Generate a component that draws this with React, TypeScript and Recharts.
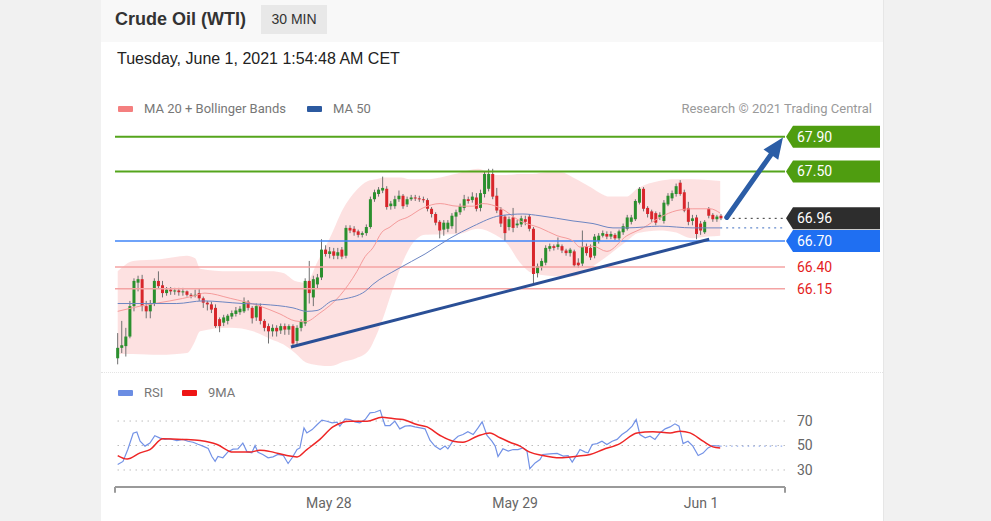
import React from "react";
import {
  ComposedChart,
  LineChart,
  Line,
  Area,
  Bar,
  XAxis,
  YAxis,
  ReferenceLine,
  ReferenceDot,
} from "recharts";

// 30 min candles: [open, high, low, close]
const candles: [number, number, number, number][] = [
  [65.35, 65.64, 65.28, 65.47], [65.47, 65.78, 65.41, 65.5], [65.49, 65.7, 65.37, 65.6], [65.6, 66.01, 65.58, 65.95],
  [65.95, 66.27, 65.89, 66.24], [66.22, 66.3, 66.12, 66.26], [66.26, 66.31, 65.89, 65.95], [65.95, 66.01, 65.81, 65.89],
  [65.89, 66.02, 65.81, 65.98], [65.98, 66.27, 65.95, 66.24], [66.24, 66.35, 66.15, 66.18], [66.19, 66.24, 66.05, 66.1],
  [66.1, 66.17, 66.07, 66.14], [66.14, 66.17, 66.08, 66.12], [66.12, 66.16, 66.08, 66.13], [66.13, 66.16, 66.07, 66.11],
  [66.11, 66.16, 66.07, 66.12], [66.12, 66.13, 66.06, 66.08], [66.08, 66.1, 66.04, 66.07], [66.07, 66.14, 66.05, 66.08],
  [66.1, 66.15, 66.01, 66.04], [66.04, 66.06, 65.93, 65.99], [65.99, 66.01, 65.9, 65.97], [65.97, 66.0, 65.87, 65.91],
  [65.93, 65.97, 65.7, 65.72], [65.8, 65.82, 65.65, 65.72], [65.76, 65.85, 65.72, 65.82], [65.78, 65.86, 65.74, 65.84],
  [65.83, 65.9, 65.8, 65.87], [65.86, 65.94, 65.83, 65.9], [65.88, 65.95, 65.85, 65.92], [65.89, 66.05, 65.87, 66.0],
  [66.0, 66.02, 65.9, 65.93], [65.93, 65.95, 65.75, 65.81], [65.82, 65.98, 65.78, 65.95], [65.95, 65.98, 65.74, 65.78],
  [65.78, 65.8, 65.66, 65.7], [65.72, 65.75, 65.52, 65.66], [65.66, 65.74, 65.6, 65.7], [65.7, 65.73, 65.6, 65.66],
  [65.67, 65.75, 65.63, 65.72], [65.72, 65.75, 65.62, 65.68], [65.68, 65.74, 65.62, 65.72], [65.72, 65.74, 65.48, 65.52],
  [65.55, 65.73, 65.5, 65.7], [65.7, 65.8, 65.66, 65.77], [65.75, 66.27, 65.72, 66.24], [66.24, 66.47, 65.98, 66.1],
  [66.05, 66.3, 65.95, 66.26], [66.2, 66.32, 66.15, 66.28], [66.28, 66.72, 66.25, 66.6], [66.6, 66.65, 66.52, 66.55],
  [66.55, 66.63, 66.5, 66.58], [66.58, 66.62, 66.49, 66.53], [66.53, 66.62, 66.49, 66.57], [66.6, 66.63, 66.49, 66.52],
  [66.53, 66.88, 66.5, 66.85], [66.85, 66.88, 66.79, 66.82], [66.84, 66.87, 66.76, 66.8], [66.81, 66.83, 66.74, 66.77],
  [66.77, 66.81, 66.74, 66.79], [66.79, 66.89, 66.76, 66.86], [66.86, 67.21, 66.84, 67.18], [67.18, 67.29, 67.15, 67.26],
  [67.24, 67.32, 67.21, 67.29], [67.28, 67.44, 67.25, 67.31], [67.3, 67.33, 67.06, 67.09], [67.1, 67.16, 67.06, 67.13],
  [67.1, 67.22, 67.07, 67.18], [67.18, 67.28, 67.15, 67.22], [67.22, 67.24, 67.07, 67.1], [67.12, 67.21, 67.09, 67.18],
  [67.18, 67.23, 67.16, 67.2], [67.2, 67.23, 67.16, 67.19], [67.19, 67.22, 67.15, 67.18], [67.18, 67.21, 67.14, 67.17],
  [67.17, 67.19, 67.04, 67.07], [67.07, 67.09, 66.97, 67.01], [67.01, 67.03, 66.88, 66.91], [66.92, 66.94, 66.73, 66.82],
  [66.83, 66.94, 66.76, 66.91], [66.84, 66.94, 66.8, 66.91], [66.87, 67.02, 66.84, 66.99], [66.98, 67.06, 66.79, 67.03],
  [67.03, 67.13, 67.0, 67.1], [67.08, 67.23, 67.05, 67.18], [67.18, 67.21, 67.13, 67.16], [67.17, 67.26, 67.14, 67.21],
  [67.2, 67.25, 67.04, 67.07], [67.08, 67.29, 67.04, 67.25], [67.24, 67.5, 67.2, 67.47], [67.3, 67.53, 67.27, 67.47],
  [67.47, 67.53, 67.18, 67.21], [67.22, 67.31, 67.02, 67.05], [67.06, 67.09, 66.86, 66.9], [66.98, 67.0, 66.7, 66.79],
  [66.86, 66.98, 66.82, 66.95], [66.97, 67.08, 66.8, 66.85], [66.88, 66.94, 66.85, 66.9], [66.89, 66.99, 66.86, 66.96],
  [66.95, 66.99, 66.88, 66.92], [66.98, 67.01, 66.81, 66.84], [66.84, 66.86, 66.2, 66.32], [66.33, 66.44, 66.28, 66.41],
  [66.4, 66.5, 66.36, 66.47], [66.45, 66.65, 66.42, 66.62], [66.61, 66.67, 66.58, 66.64], [66.64, 66.66, 66.59, 66.62],
  [66.63, 66.74, 66.6, 66.66], [66.64, 66.66, 66.56, 66.59], [66.59, 66.61, 66.53, 66.56], [66.56, 66.62, 66.52, 66.6],
  [66.58, 66.6, 66.4, 66.42], [66.45, 66.5, 66.39, 66.42], [66.44, 66.82, 66.41, 66.63], [66.64, 66.67, 66.53, 66.56],
  [66.62, 66.66, 66.48, 66.51], [66.53, 66.78, 66.5, 66.75], [66.7, 66.79, 66.67, 66.76], [66.76, 66.82, 66.74, 66.79],
  [66.78, 66.81, 66.72, 66.75], [66.75, 66.81, 66.72, 66.78], [66.77, 66.79, 66.71, 66.73], [66.73, 66.83, 66.71, 66.81],
  [66.8, 66.9, 66.77, 66.87], [66.84, 67.0, 66.82, 66.97], [66.92, 67.0, 66.89, 66.97], [66.95, 67.18, 66.93, 67.16],
  [67.14, 67.32, 67.12, 67.3], [67.3, 67.32, 67.04, 67.07], [67.08, 67.1, 66.97, 67.01], [67.04, 67.06, 66.92, 66.95],
  [67.02, 67.04, 66.88, 66.91], [66.97, 67.03, 66.94, 67.0], [66.93, 67.17, 66.9, 67.14], [67.12, 67.25, 67.1, 67.22],
  [67.19, 67.28, 67.16, 67.25], [67.24, 67.36, 67.21, 67.33], [67.37, 67.4, 67.22, 67.24], [67.26, 67.29, 67.03, 67.05],
  [67.08, 67.15, 66.88, 66.92], [66.93, 67.0, 66.88, 66.96], [66.97, 67.0, 66.72, 66.78], [66.9, 66.93, 66.77, 66.82],
  [66.8, 66.94, 66.78, 66.92], [67.07, 67.09, 66.96, 66.99], [67.0, 67.02, 66.92, 66.95], [66.95, 67.0, 66.92, 66.98],
  [66.99, 67.01, 66.94, 66.96],
];

// [candle index, lower band, upper band]
const bollinger: [number, number, number][] = [
  [0, 65.4, 66.35], [3.8, 65.4, 66.47], [10.4, 65.39, 66.49], [17, 65.41, 66.53], [19, 65.55, 66.5],
  [20.2, 65.66, 66.38], [27.6, 65.7, 66.35], [33.2, 65.66, 66.35], [37.6, 65.57, 66.35], [40.6, 65.51, 66.33],
  [43.5, 65.41, 66.24], [46.2, 65.3, 66.22], [49.1, 65.27, 66.47], [52.3, 65.26, 66.76], [55.3, 65.31, 67.07],
  [58.5, 65.35, 67.28], [61.4, 65.43, 67.39], [63.4, 65.61, 67.41], [65.3, 65.84, 67.43], [67.3, 66.12, 67.43],
  [69.5, 66.41, 67.43], [71.5, 66.61, 67.41], [75.4, 66.77, 67.41], [83.5, 66.78, 67.48], [88.4, 66.84, 67.53],
  [92.6, 66.77, 67.46], [95.5, 66.67, 67.46], [98.7, 66.45, 67.47], [101.7, 66.33, 67.47], [105.6, 66.3, 67.49],
  [108.8, 66.29, 67.49], [111.7, 66.29, 67.43], [115.6, 66.38, 67.33], [120.8, 66.55, 67.21], [124.7, 66.69, 67.21],
  [127.7, 66.79, 67.31], [132.8, 66.82, 67.39], [136.7, 66.8, 67.41], [140.9, 66.73, 67.41], [144.8, 66.75, 67.4],
  [147.8, 66.76, 67.39],
];

const ma20: [number, number][] = [
  [0, 65.89], [5.5, 65.95], [12.8, 66.01], [19, 66.07], [21.4, 66.1], [27.6, 66.04], [34.9, 65.95], [39.8, 65.86],
  [43.5, 65.78], [46, 65.77], [49.6, 65.87], [54.5, 66.07], [58.7, 66.35], [60.7, 66.52], [62.6, 66.62], [64.8, 66.8],
  [66.8, 66.86], [68.8, 66.93], [71, 66.97], [74.9, 67.08], [79.1, 67.13], [83.3, 67.1], [87.2, 67.1], [89.6, 67.13],
  [93.8, 67.08], [98.7, 66.93], [103.6, 66.85], [107.8, 66.76], [111.7, 66.7], [113.4, 66.63], [116.6, 66.64],
  [120, 66.58], [124.9, 66.76], [128.9, 66.85], [133, 66.97], [137.2, 67.05], [141.1, 67.07], [145.3, 67.07],
  [147.8, 67.02],
];

const ma50: [number, number][] = [
  [0, 65.98], [14.5, 65.98], [20.9, 66.01], [30.7, 65.98], [35.6, 65.97], [43, 65.93], [46.4, 65.89], [48.9, 65.9],
  [52.6, 66.01], [55.3, 66.03], [60.7, 66.12], [62.6, 66.2], [68.8, 66.38], [75.4, 66.55], [81.5, 66.73],
  [87.2, 66.87], [93.8, 66.99], [99.4, 67.01], [103.6, 66.99], [111.7, 66.93], [116.6, 66.9], [121.5, 66.85],
  [124.9, 66.85], [133, 66.87], [141.1, 66.85], [147.8, 66.85],
];

const rsi: [number, number][] = [
  [0, 34.5], [1.3, 37], [2.5, 47], [3.8, 60], [4.7, 61], [5.5, 53.5], [6.7, 49.5], [7.9, 52], [9.1, 58], [10.4, 56],
  [11.6, 55], [12.8, 55.5], [14.5, 54], [16, 55], [17.2, 53.5], [18.5, 52.7], [19.7, 51], [20.9, 49.5], [22.2, 47.5],
  [23.1, 41], [23.9, 37], [24.6, 41], [25.8, 40], [27.1, 45], [28.3, 47], [29.5, 47.3], [30.7, 52], [31.7, 45],
  [32.9, 44], [33.7, 50], [34.4, 44.5], [35.6, 42.7], [36.9, 40], [38.1, 40.7], [39.3, 42.7], [40.6, 42], [41.8, 35.3],
  [42.8, 40], [44, 46.7], [44.7, 48], [45.7, 64.4], [46.4, 60.3], [47.7, 63], [48.9, 67], [50.1, 70.7], [51.3, 69.8],
  [52.6, 68.5], [53.8, 69], [54.5, 65.8], [55.8, 71.8], [57, 71.2], [58.2, 69.3], [59.4, 68.5], [60.7, 71.2],
  [61.9, 76.7], [63.1, 77.2], [64.4, 78.8], [65.1, 71.2], [65.6, 66.3], [66.8, 66.3], [68, 69.9], [69.2, 63.6],
  [70.5, 65.8], [71.7, 66.3], [72.9, 65.2], [74.2, 64.4], [75.4, 63.6], [76.6, 54.4], [77.8, 49.5], [79.1, 46.7],
  [80.3, 49.5], [81, 47.3], [82.3, 54], [83.5, 57.6], [84.7, 59], [85.9, 61.2], [87.2, 59], [88.4, 64.4], [89.4, 69.3],
  [90.6, 58.2], [91.8, 53.5], [92.6, 49.5], [93.3, 41], [94.5, 47.3], [95.8, 45.4], [97, 46.7], [98.2, 46.7],
  [99.4, 48], [100.4, 45.4], [101.1, 31], [102.4, 35.8], [103.6, 38.6], [104.3, 42.7], [106, 43.2], [107.8, 43.5],
  [109.3, 41.3], [110.5, 41.8], [111.5, 36.4], [112.7, 42.7], [113.4, 46.7], [114.7, 44.6], [115.4, 44], [116.4, 50.8],
  [117.6, 51.6], [118.8, 53.5], [120, 50.8], [121.3, 53.5], [122.5, 55], [123.7, 59], [124.9, 61.7], [126.2, 65.8],
  [127.2, 71.2], [128.1, 59], [129.4, 56.3], [130.6, 57.6], [131.8, 55], [133, 60.3], [134.3, 63.6], [135.5, 65.2],
  [136.7, 67.7], [137.7, 65.8], [138.7, 51.6], [139.9, 53.5], [141.1, 49.5], [142.4, 41.8], [143.6, 43.8], [144.8, 48],
  [146, 50], [147.8, 49.5],
];

const rsiMa9: [number, number][] = [
  [0, 41.8], [2.3, 39], [5.5, 44], [7.9, 46.7], [11.1, 55.5], [16, 55], [20.2, 54], [24.4, 50.8], [28.3, 44.6],
  [32.5, 44.6], [34.9, 46.2], [38.1, 44.6], [41.5, 41.8], [44, 40.7], [46.4, 46.7], [49.6, 55], [52.8, 65.2], [57, 69.9],
  [61.2, 69.9], [64.8, 73.1], [67.5, 72], [70, 71.2], [73.4, 67.1], [75.9, 65.2], [79.1, 58.2], [82.3, 53.5],
  [84.7, 52.7], [88.2, 57.6], [91.3, 60.3], [93.8, 56.3], [96.2, 52.7], [98.7, 49.5], [101.1, 44.6], [104.3, 41.8],
  [108.5, 39.9], [112.7, 41.3], [115.9, 42.7], [119.1, 46.7], [123.2, 51.6], [127.4, 60.3], [131.3, 61.2],
  [135.5, 60.3], [138, 61.7], [140.4, 60.3], [143.6, 53.5], [146, 48.9], [147.8, 48],
];

const resistances = [67.9, 67.5];
const pivot = 66.7;
const supports = [66.4, 66.15];
const lastPrice = 66.96;
const lastMa50 = 66.85;
const lastRsi = 49.5;
const trendline = [
  { x: 42.5, y: 65.48 },
  { x: 145.1, y: 66.72 },
];
const arrow = [
  { x: 149.4, y: 66.97 },
  { x: 163.2, y: 67.89 },
];
const dateTicks = [51.8, 97.5, 143.1];
const dateLabels = ["May 28", "May 29", "Jun 1"];
const rsiTicks = [30, 50, 70];

const X_DOMAIN: [number, number] = [-0.66, 163.7];
const FONT = "Roboto, 'Liberation Sans', Arial, sans-serif";
const GREEN = "#4f9d10";
const BLUE = "#1f6ff2";

const candleRows = candles.map(([o, h, l, c], i) => ({ i, o, h, l, c }));
const bandRows = bollinger.map(([i, lo, up]) => ({ i, band: [lo, up] }));
const ma20Rows = ma20.map(([i, v]) => ({ i, v }));
const ma50Rows = ma50.map(([i, v]) => ({ i, v }));
const rsiRows = rsi.map(([i, v]) => ({ i, v }));
const rsiMaRows = rsiMa9.map(([i, v]) => ({ i, v }));

function Candle(props: any) {
  const { x, y, width, height, payload } = props;
  if (x == null || y == null) return null;
  const top = Math.min(y, y + height);
  const span = Math.abs(height);
  const range = payload.h - payload.l || 1;
  const toY = (v: number) => top + ((payload.h - v) / range) * span;
  const up = payload.c >= payload.o;
  const cx = x + width / 2;
  const bTop = toY(Math.max(payload.o, payload.c));
  const bBot = toY(Math.min(payload.o, payload.c));
  return (
    <g>
      <line x1={cx} x2={cx} y1={top} y2={top + span} stroke="#707070" strokeWidth={1} />
      <rect
        x={cx - 1.5}
        y={bTop}
        width={3}
        height={Math.max(1, bBot - bTop)}
        fill={up ? "#2b8f2e" : "#d8262b"}
      />
    </g>
  );
}

function tag(fill: string, text: string) {
  return (props: any) => {
    const { cx, cy } = props;
    const x = cx + 1;
    return (
      <g>
        <polygon
          points={`${x},${cy} ${x + 7},${cy - 11} ${x + 94},${cy - 11} ${x + 94},${cy + 11} ${x + 7},${cy + 11}`}
          fill={fill}
        />
        <text x={x + 11} y={cy + 5} fill="#fff" fontSize={14} fontFamily={FONT}>
          {text}
        </text>
      </g>
    );
  };
}

function plainLabel(text: string) {
  return (props: any) => (
    <text x={props.cx + 12} y={props.cy + 5} fill="#e41d1d" fontSize={14} fontFamily={FONT}>
      {text}
    </text>
  );
}

function ArrowLine(props: any) {
  const { x1, y1, x2, y2 } = props;
  const dx = x2 - x1;
  const dy = y2 - y1;
  const len = Math.sqrt(dx * dx + dy * dy) || 1;
  const ux = dx / len;
  const uy = dy / len;
  const head = 21;
  const bx = x2 - ux * head;
  const by = y2 - uy * head;
  const px = -uy * 9;
  const py = ux * 9;
  return (
    <g>
      <line x1={x1} y1={y1} x2={bx} y2={by} stroke="#2b5da6" strokeWidth={5} strokeLinecap="round" />
      <polygon points={`${x2},${y2} ${bx + px},${by + py} ${bx - px},${by - py}`} fill="#2b5da6" />
    </g>
  );
}

function PriceChart() {
  return (
    <ComposedChart
      width={782}
      height={259}
      data={candleRows}
      margin={{ top: 0, right: 98, bottom: 0, left: 14 }}
    >
      <XAxis dataKey="i" type="number" domain={X_DOMAIN} allowDataOverflow hide />
      <YAxis type="number" domain={[65.1, 68.08]} allowDataOverflow hide />
      <Area
        data={bandRows}
        dataKey="band"
        type="monotone"
        stroke="none"
        fill="#fddede"
        fillOpacity={0.9}
        isAnimationActive={false}
      />
      {resistances.map((p) => (
        <ReferenceLine key={p} y={p} stroke="#55a51c" strokeWidth={2} />
      ))}
      <ReferenceLine y={pivot} stroke="#3f85f7" strokeWidth={1.5} />
      {supports.map((p) => (
        <ReferenceLine key={p} y={p} stroke="#f4a3a3" strokeWidth={1.5} />
      ))}
      <Line
        data={ma20Rows}
        dataKey="v"
        type="monotone"
        stroke="#f59b9b"
        strokeWidth={1}
        dot={false}
        isAnimationActive={false}
      />
      <Line
        data={ma50Rows}
        dataKey="v"
        type="monotone"
        stroke="#6d86c2"
        strokeWidth={1}
        dot={false}
        isAnimationActive={false}
      />
      <Bar
        dataKey={(d: any) => [d.l, d.h]}
        barSize={3}
        shape={Candle}
        isAnimationActive={false}
      />
      <ReferenceLine
        segment={[
          { x: arrow[0].x, y: lastPrice },
          { x: X_DOMAIN[1], y: lastPrice },
        ]}
        stroke="#333"
        strokeDasharray="2 4"
      />
      <ReferenceLine
        segment={[
          { x: 147.8, y: lastMa50 },
          { x: X_DOMAIN[1], y: lastMa50 },
        ]}
        stroke="#3f6fc0"
        strokeDasharray="2 4"
      />
      <ReferenceLine segment={trendline} stroke="#2a4f96" strokeWidth={3} />
      <ReferenceLine segment={arrow} shape={ArrowLine} />
      <ReferenceDot x={X_DOMAIN[1]} y={resistances[0]} shape={tag(GREEN, "67.90")} />
      <ReferenceDot x={X_DOMAIN[1]} y={resistances[1]} shape={tag(GREEN, "67.50")} />
      <ReferenceDot x={X_DOMAIN[1]} y={lastPrice} shape={tag("#2d2d2d", "66.96")} />
      <ReferenceDot x={X_DOMAIN[1]} y={pivot} shape={tag(BLUE, "66.70")} />
      <ReferenceDot x={X_DOMAIN[1]} y={supports[0]} shape={plainLabel("66.40")} />
      <ReferenceDot x={X_DOMAIN[1]} y={supports[1]} shape={plainLabel("66.15")} />
    </ComposedChart>
  );
}

function RsiChart() {
  return (
    <LineChart width={782} height={116} margin={{ top: 0, right: 58, bottom: 0, left: 14 }}>
      <XAxis
        dataKey="i"
        type="number"
        domain={X_DOMAIN}
        allowDataOverflow
        ticks={dateTicks}
        tickFormatter={(v: number) => dateLabels[dateTicks.indexOf(v)] ?? ""}
        axisLine={{ stroke: "#9a9a9a", strokeWidth: 2 }}
        tickLine={false}
        tickMargin={5}
        height={34}
        tick={{ fill: "#666", fontSize: 14, fontFamily: FONT }}
      />
      <YAxis
        orientation="right"
        type="number"
        domain={[16.1, 83.1]}
        allowDataOverflow
        ticks={rsiTicks}
        axisLine={false}
        tickLine={false}
        tickMargin={6}
        width={40}
        tick={{ fill: "#666", fontSize: 14, fontFamily: FONT }}
      />
      {rsiTicks.map((t) => (
        <ReferenceLine key={t} y={t} stroke="#bdbdbd" strokeDasharray="1.5 4.5" />
      ))}
      <ReferenceLine
        segment={[
          { x: 147.8, y: lastRsi },
          { x: X_DOMAIN[1], y: lastRsi },
        ]}
        stroke="#7f9be6"
        strokeDasharray="1.5 4"
      />
      <ReferenceLine
        segment={[
          { x: X_DOMAIN[0], y: 16.1 },
          { x: X_DOMAIN[0], y: 11.5 },
        ]}
        ifOverflow="visible"
        stroke="#9a9a9a"
        strokeWidth={2}
      />
      <ReferenceLine
        segment={[
          { x: X_DOMAIN[1], y: 16.1 },
          { x: X_DOMAIN[1], y: 11.5 },
        ]}
        ifOverflow="visible"
        stroke="#9a9a9a"
        strokeWidth={2}
      />
      <Line
        data={rsiRows}
        dataKey="v"
        type="linear"
        stroke="#7392e6"
        strokeWidth={1.2}
        dot={false}
        isAnimationActive={false}
      />
      <Line
        data={rsiMaRows}
        dataKey="v"
        type="monotone"
        stroke="#ee2626"
        strokeWidth={1.5}
        dot={false}
        isAnimationActive={false}
      />
    </LineChart>
  );
}

const legendText: React.CSSProperties = {
  position: "absolute",
  fontFamily: FONT,
  fontSize: 13,
  lineHeight: "16px",
  color: "#777",
  whiteSpace: "nowrap",
};

function Swatch({ left, top, color }: { left: number; top: number; color: string }) {
  return (
    <div
      style={{ position: "absolute", left, top, width: 15, height: 6, background: color, borderRadius: 1 }}
    />
  );
}

export default function App() {
  return (
    <div
      style={{
        position: "absolute",
        left: 0,
        top: 0,
        width: 991,
        height: 521,
        background: "#f1f1f1",
        overflow: "hidden",
      }}
    >
      <div
        style={{
          position: "absolute",
          left: 101,
          top: 0,
          width: 782,
          height: 521,
          background: "#fff",
          borderRight: "1px solid #e6e6e6",
        }}
      />
      <div style={{ position: "absolute", left: 101, top: 0, width: 782, height: 42, background: "#f8f8f8" }} />
      <div
        style={{
          position: "absolute",
          left: 115,
          top: 9,
          fontFamily: "'Liberation Sans', Arial, sans-serif",
          fontWeight: 700,
          fontSize: 18,
          lineHeight: "20px",
          color: "#333",
        }}
      >
        Crude Oil (WTI)
      </div>
      <div
        style={{
          position: "absolute",
          left: 261,
          top: 5,
          width: 66,
          height: 29,
          background: "#e8e8e8",
          fontFamily: "'Liberation Sans', Arial, sans-serif",
          fontSize: 14,
          lineHeight: "29px",
          textAlign: "center",
          color: "#333",
        }}
      >
        30 MIN
      </div>
      <div
        style={{
          position: "absolute",
          left: 117,
          top: 49,
          fontFamily: "'Liberation Sans', Arial, sans-serif",
          fontSize: 16,
          lineHeight: "20px",
          color: "#222",
        }}
      >
        Tuesday, June 1, 2021 1:54:48 AM CET
      </div>

      <Swatch left={118} top={106} color="#f47f7f" />
      <div style={{ ...legendText, left: 144, top: 101 }}>MA 20 + Bollinger Bands</div>
      <Swatch left={307} top={106} color="#2c5aa0" />
      <div style={{ ...legendText, left: 333, top: 101 }}>MA 50</div>
      <div style={{ ...legendText, right: 119, top: 101, color: "#9a9a9a" }}>
        Research © 2021 Trading Central
      </div>

      <div style={{ position: "absolute", left: 101, top: 121 }}>
        <PriceChart />
      </div>

      <div
        style={{
          position: "absolute",
          left: 101,
          top: 372,
          width: 782,
          borderTop: "1px dotted #e4e4e4",
        }}
      />

      <Swatch left={118} top={390} color="#6b8de3" />
      <div style={{ ...legendText, left: 144, top: 385 }}>RSI</div>
      <Swatch left={182} top={390} color="#ee1515" />
      <div style={{ ...legendText, left: 208, top: 385 }}>9MA</div>

      <div style={{ position: "absolute", left: 101, top: 405 }}>
        <RsiChart />
      </div>
    </div>
  );
}
